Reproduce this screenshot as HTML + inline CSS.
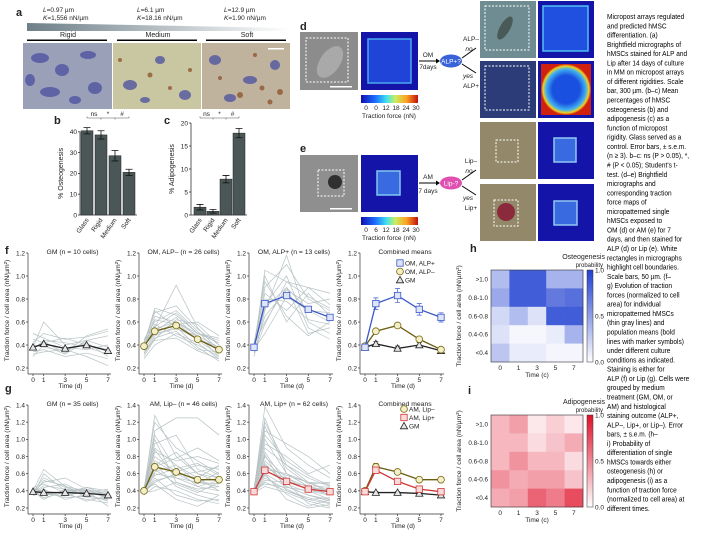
<!DOCTYPE html>
<html><head><meta charset="utf-8">
<style>
html,body{margin:0;padding:0;background:#fff;}
svg{display:block;font-family:"Liberation Sans",sans-serif;}
text{fill:#222;}
.cap{font-size:7.6px;fill:#000;}
</style></head>
<body>
<svg id="fig" width="720" height="540" viewBox="0 0 720 540" xmlns="http://www.w3.org/2000/svg">
<defs>
<linearGradient id="stiff" x1="0" x2="1" y1="0" y2="0"><stop offset="0" stop-color="#6d7f88"/><stop offset="1" stop-color="#ffffff"/></linearGradient>
<linearGradient id="jet" x1="0" x2="1"><stop offset="0" stop-color="#1010b0"/><stop offset="0.25" stop-color="#1a70ff"/><stop offset="0.45" stop-color="#40e0f0"/><stop offset="0.6" stop-color="#c8f060"/><stop offset="0.8" stop-color="#ffa020"/><stop offset="1" stop-color="#c01010"/></linearGradient>
<linearGradient id="bluebar" x1="0" x2="0" y1="1" y2="0"><stop offset="0" stop-color="#ffffff"/><stop offset="1" stop-color="#2040d0"/></linearGradient>
<linearGradient id="redbar" x1="0" x2="0" y1="1" y2="0"><stop offset="0" stop-color="#ffffff"/><stop offset="1" stop-color="#e0102a"/></linearGradient>
<radialGradient id="alpmap"><stop offset="0.55" stop-color="#1a50e0"/><stop offset="0.8" stop-color="#40b0f0"/><stop offset="0.92" stop-color="#f0d020"/><stop offset="1" stop-color="#d02010"/></radialGradient>
</defs>

<!-- panel a -->
<g>
<text x="16" y="16" font-size="11" font-weight="bold">a</text>
<text x="43" y="12" font-size="6.5"><tspan font-style="italic">L</tspan>=0.97 µm</text>
<text x="43" y="20" font-size="6.5"><tspan font-style="italic">K</tspan>=1,556 nN/µm</text>
<text x="137" y="12" font-size="6.5"><tspan font-style="italic">L</tspan>=6.1 µm</text>
<text x="137" y="20" font-size="6.5"><tspan font-style="italic">K</tspan>=18.16 nN/µm</text>
<text x="224" y="12" font-size="6.5"><tspan font-style="italic">L</tspan>=12.9 µm</text>
<text x="224" y="20" font-size="6.5"><tspan font-style="italic">K</tspan>=1.90 nN/µm</text>
<polygon points="27,23 290,28 290,31 27,31" fill="url(#stiff)"/>
<text x="68" y="37" font-size="7" text-anchor="middle">Rigid</text>
<text x="158" y="37" font-size="7" text-anchor="middle">Medium</text>
<text x="247" y="37" font-size="7" text-anchor="middle">Soft</text>
<rect x="27" y="39.5" width="80" height="1.5" fill="#000"/>
<rect x="117" y="39.5" width="80" height="1.5" fill="#000"/>
<rect x="206" y="39.5" width="80" height="1.5" fill="#000"/>
<rect x="23" y="43" width="89" height="66" fill="#9aa0b8"/>
<rect x="113" y="43" width="88" height="66" fill="#c9c6a2"/>
<rect x="202" y="43" width="88" height="66" fill="#bfb39e"/>
<g fill="#4a4fa0" opacity="0.75">
<ellipse cx="40" cy="58" rx="9" ry="5"/><ellipse cx="62" cy="70" rx="7" ry="6"/><ellipse cx="88" cy="55" rx="8" ry="4"/><ellipse cx="50" cy="92" rx="10" ry="5"/><ellipse cx="95" cy="88" rx="7" ry="6"/><ellipse cx="30" cy="80" rx="5" ry="6"/><ellipse cx="75" cy="100" rx="6" ry="4"/>
<ellipse cx="130" cy="85" rx="7" ry="5"/><ellipse cx="160" cy="60" rx="5" ry="4"/><ellipse cx="185" cy="95" rx="6" ry="5"/><ellipse cx="145" cy="100" rx="5" ry="3"/>
<ellipse cx="215" cy="60" rx="6" ry="5"/><ellipse cx="250" cy="80" rx="7" ry="4"/><ellipse cx="275" cy="65" rx="5" ry="5"/><ellipse cx="230" cy="98" rx="6" ry="4"/>
</g>
<g fill="#8a4a20" opacity="0.7">
<circle cx="150" cy="75" r="2.5"/><circle cx="170" cy="88" r="2"/><circle cx="120" cy="60" r="2"/><circle cx="190" cy="70" r="2"/><circle cx="240" cy="95" r="3"/><circle cx="262" cy="88" r="2.5"/><circle cx="280" cy="92" r="3"/><circle cx="220" cy="78" r="2"/><circle cx="255" cy="55" r="2"/><circle cx="270" cy="102" r="2.5"/>
</g>
<rect x="268" y="48" width="16" height="1.5" fill="#fff"/>
</g>

<!-- panels d / e images -->
<g>
<text x="300" y="30" font-size="11" font-weight="bold">d</text>
<rect x="300" y="32" width="58" height="58" fill="#8c8c8c"/>
<ellipse cx="330" cy="62" rx="10" ry="18" fill="#b0b0b0" opacity="0.8" transform="rotate(35 330 62)"/>
<rect x="306" y="38" width="42" height="44" fill="none" stroke="#fff" stroke-dasharray="2,1.5"/>
<rect x="330" y="86" width="22" height="1.5" fill="#fff"/>
<rect x="361" y="32" width="57" height="58" fill="#1414a8"/>
<rect x="368" y="39" width="43" height="44" fill="#2044d8" stroke="#4aa8f0" stroke-width="1.5"/>
<rect x="361" y="95" width="57" height="8" fill="url(#jet)"/>
<text x="366" y="110" font-size="6.5" text-anchor="middle">0</text>
<text x="376" y="110" font-size="6.5" text-anchor="middle">0</text>
<text x="386" y="110" font-size="6.5" text-anchor="middle">12</text>
<text x="396" y="110" font-size="6.5" text-anchor="middle">18</text>
<text x="406" y="110" font-size="6.5" text-anchor="middle">24</text>
<text x="416" y="110" font-size="6.5" text-anchor="middle">30</text>
<text x="389" y="118" font-size="6.5" text-anchor="middle">Traction force (nN)</text>
<text x="428" y="57" font-size="6.5" text-anchor="middle">OM</text>
<line x1="419" y1="61" x2="436" y2="61" stroke="#000"/><polygon points="436,58.5 440,61 436,63.5" fill="#000"/>
<text x="428" y="69" font-size="6.5" text-anchor="middle">7days</text>
<ellipse cx="451" cy="61" rx="11" ry="6.5" fill="#3a62d8"/>
<text x="451" y="63.5" font-size="6.5" text-anchor="middle" style="fill:#fff">ALP+?</text>
<path d="M462,58 L476,48 M462,64 L476,73" stroke="#000" fill="none"/>
<text x="471" y="41" font-size="6.5" text-anchor="middle">ALP–</text>
<text x="469" y="51" font-size="6.5" text-anchor="middle" font-style="italic">no</text>
<text x="468" y="78" font-size="6.5" text-anchor="middle" font-style="italic">yes</text>
<text x="471" y="88" font-size="6.5" text-anchor="middle">ALP+</text>
<rect x="480" y="1" width="56" height="57" fill="#6f8c92"/>
<ellipse cx="505" cy="28" rx="5" ry="13" fill="#4a5a58" transform="rotate(30 505 28)"/>
<rect x="485" y="6" width="44" height="44" fill="none" stroke="#fff" stroke-dasharray="2,1.5"/>
<rect x="538" y="1" width="56" height="57" fill="#1414a8"/>
<rect x="543" y="6" width="45" height="45" fill="#2050e0" stroke="#50c0f0" stroke-width="1.5"/>
<rect x="480" y="61" width="56" height="57" fill="#2c3c78"/>
<rect x="485" y="66" width="44" height="44" fill="none" stroke="#fff" stroke-dasharray="2,1.5"/>
<rect x="538" y="61" width="56" height="57" fill="#1414a8"/>
<rect x="541" y="64" width="50" height="51" fill="url(#alpmap)"/>
</g>
<g>
<text x="300" y="152" font-size="11" font-weight="bold">e</text>
<rect x="300" y="155" width="58" height="57" fill="#8f8f8f"/>
<circle cx="335" cy="182" r="7" fill="#303030"/>
<rect x="318" y="170" width="26" height="26" fill="none" stroke="#fff" stroke-dasharray="2,1.5"/>
<rect x="330" y="208" width="22" height="1.5" fill="#fff"/>
<rect x="361" y="155" width="57" height="57" fill="#1414a8"/>
<rect x="377" y="171" width="23" height="24" fill="#3a6ae0" stroke="#80c8f0" stroke-width="1.5"/>
<rect x="361" y="217" width="57" height="8" fill="url(#jet)"/>
<text x="366" y="232" font-size="6.5" text-anchor="middle">0</text>
<text x="376" y="232" font-size="6.5" text-anchor="middle">6</text>
<text x="386" y="232" font-size="6.5" text-anchor="middle">12</text>
<text x="396" y="232" font-size="6.5" text-anchor="middle">18</text>
<text x="406" y="232" font-size="6.5" text-anchor="middle">24</text>
<text x="416" y="232" font-size="6.5" text-anchor="middle">30</text>
<text x="389" y="240" font-size="6.5" text-anchor="middle">Traction force (nN)</text>
<text x="428" y="179" font-size="6.5" text-anchor="middle">AM</text>
<line x1="419" y1="183" x2="436" y2="183" stroke="#000"/><polygon points="436,180.5 440,183 436,185.5" fill="#000"/>
<text x="428" y="193" font-size="6.5" text-anchor="middle">7 days</text>
<ellipse cx="451" cy="183" rx="11" ry="6.5" fill="#e050b0"/>
<text x="451" y="185.5" font-size="6.5" text-anchor="middle" style="fill:#fff">Lip-?</text>
<path d="M462,180 L476,170 M462,186 L476,195" stroke="#000" fill="none"/>
<text x="471" y="163" font-size="6.5" text-anchor="middle">Lip–</text>
<text x="469" y="173" font-size="6.5" text-anchor="middle" font-style="italic">no</text>
<text x="468" y="200" font-size="6.5" text-anchor="middle" font-style="italic">yes</text>
<text x="471" y="210" font-size="6.5" text-anchor="middle">Lip+</text>
<rect x="480" y="122" width="56" height="57" fill="#938869"/>
<rect x="496" y="140" width="22" height="22" fill="none" stroke="#fff" stroke-dasharray="2,1.5"/>
<rect x="538" y="122" width="56" height="57" fill="#1414a8"/>
<rect x="554" y="138" width="22" height="24" fill="#3a6ae0" stroke="#90c8f0" stroke-width="1.5"/>
<rect x="480" y="184" width="56" height="57" fill="#938869"/>
<circle cx="506" cy="212" r="9" fill="#8a2a3a"/>
<rect x="494" y="200" width="24" height="26" fill="none" stroke="#fff" stroke-dasharray="2,1.5"/>
<rect x="538" y="184" width="56" height="57" fill="#1414a8"/>
<rect x="554" y="201" width="23" height="24" fill="#3a6ae0" stroke="#90c8f0" stroke-width="1.5"/>
</g>

<g id="charts"></g>

<g id="caption"></g>
</svg>

<script>
// ---------- data ----------
const barCats = ["Glass","Rigid","Medium","Soft"];
const osteoVals = [40.5, 38.5, 28.5, 20.5];
const osteoErr = [1.5, 2.0, 2.5, 1.5];
const osteoTicks = [0,10,20,30,40];
const adipoVals = [1.7, 0.8, 7.8, 17.8];
const adipoErr = [0.6, 0.4, 0.8, 1.0];
const adipoTicks = [0,5,10,15,20];

const days = [0,1,3,5,7];
const dayLabels = ["0","1","3","5","7"];
const fTicks = [0.2,0.4,0.6,0.8,1.0,1.2];
const gTicks = [0.2,0.4,0.6,0.8,1.0,1.2,1.4];

const fGMcells = [[0.42,0.50,0.45,0.47,0.52],[0.38,0.60,0.40,0.44,0.48],[0.36,0.44,0.42,0.38,0.32],[0.40,0.38,0.35,0.42,0.30],[0.34,0.36,0.30,0.33,0.28],[0.45,0.42,0.46,0.40,0.36],[0.32,0.34,0.36,0.30,0.22],[0.50,0.46,0.38,0.36,0.40],[0.30,0.40,0.32,0.44,0.38],[0.37,0.43,0.33,0.48,0.54]];
const fALPmCells = [[0.38,0.65,0.60,0.50,0.42],[0.40,0.55,0.92,0.55,0.35],[0.35,0.50,0.60,0.48,0.30],[0.42,0.70,0.55,0.45,0.38],[0.30,0.45,0.62,0.58,0.40],[0.45,0.60,0.70,0.52,0.33],[0.28,0.40,0.50,0.42,0.28],[0.36,0.58,0.48,0.40,0.30],[0.40,0.72,0.66,0.50,0.44],[0.33,0.48,0.56,0.38,0.26],[0.44,0.52,0.64,0.46,0.36],[0.38,0.62,0.58,0.60,0.48],[0.32,0.46,0.52,0.36,0.34],[0.41,0.68,0.74,0.54,0.40],[0.37,0.54,0.60,0.44,0.32],[0.35,0.44,0.46,0.35,0.28],[0.43,0.56,0.68,0.50,0.46],[0.39,0.50,0.54,0.48,0.38]];
const fALPpCells = [[0.38,0.90,1.10,0.80,0.70],[0.35,1.05,0.95,0.90,0.85],[0.40,0.60,0.90,0.50,0.55],[0.30,0.70,1.18,0.60,0.50],[0.42,0.85,0.70,0.90,0.75],[0.36,0.50,0.82,0.70,0.60],[0.38,1.00,0.60,0.85,0.65],[0.40,0.75,1.00,0.55,0.45],[0.34,0.65,0.88,0.76,0.80],[0.39,0.80,0.78,0.62,0.58],[0.37,0.72,0.90,0.70,0.68],[0.41,0.95,0.65,0.48,0.60],[0.33,0.58,0.95,0.82,0.72]];
const gGMcells = [[0.40,0.65,0.45,0.40,0.35],[0.38,0.50,0.55,0.42,0.30],[0.42,0.35,0.40,0.38,0.33],[0.36,0.42,0.30,0.36,0.28],[0.40,0.30,0.42,0.35,0.40],[0.44,0.48,0.38,0.44,0.36],[0.34,0.40,0.36,0.30,0.26],[0.39,0.55,0.44,0.38,0.42],[0.41,0.36,0.34,0.40,0.32],[0.37,0.44,0.48,0.36,0.38],[0.43,0.38,0.32,0.34,0.30],[0.35,0.60,0.40,0.42,0.36],[0.40,0.32,0.38,0.28,0.34],[0.38,0.46,0.42,0.40,0.22],[0.42,0.40,0.36,0.44,0.40],[0.36,0.52,0.46,0.32,0.30]];
const gLipmCells = [[0.40,1.28,0.80,0.60,0.55],[0.38,1.10,1.25,1.25,1.05],[0.42,0.90,0.70,0.50,0.45],[0.36,0.60,0.55,0.45,0.40],[0.40,0.80,0.62,0.70,0.65],[0.44,1.00,0.50,0.40,0.35],[0.38,0.50,0.60,0.55,0.70],[0.40,0.70,0.85,0.60,0.50],[0.35,0.45,0.40,0.30,0.25],[0.42,1.20,0.90,0.75,0.60],[0.39,0.65,0.48,0.38,0.50],[0.41,0.85,0.75,0.80,0.72],[0.37,0.55,0.35,0.28,0.30],[0.40,0.75,0.60,0.48,0.62],[0.43,0.95,1.05,0.65,0.55],[0.38,0.40,0.50,0.42,0.45],[0.40,0.62,0.70,0.55,0.40],[0.36,0.72,0.45,0.35,0.28],[0.42,0.58,0.66,0.72,0.58],[0.39,0.88,0.55,0.50,0.48],[0.41,0.48,0.30,0.22,0.35],[0.37,0.68,0.78,0.90,0.75],[0.40,1.05,0.65,0.45,0.52],[0.38,0.52,0.58,0.62,0.68]];
const gLippCells = [[0.40,1.38,0.90,0.70,0.55],[0.38,1.20,0.70,0.50,0.40],[0.42,1.00,0.60,0.45,0.35],[0.36,0.80,0.55,0.40,0.30],[0.40,0.60,0.45,0.35,0.28],[0.44,1.10,0.95,0.80,0.60],[0.38,0.50,0.40,0.30,0.25],[0.40,0.90,0.70,0.55,0.45],[0.35,0.70,0.50,0.25,0.20],[0.42,1.25,0.60,0.45,0.40],[0.39,0.65,0.60,0.50,0.38],[0.41,0.85,0.48,0.38,0.42],[0.37,0.55,0.42,0.30,0.32],[0.40,0.75,0.52,0.42,0.36],[0.43,0.95,0.80,0.60,0.70],[0.38,0.45,0.38,0.28,0.22],[0.40,0.62,0.55,0.44,0.40],[0.36,0.72,0.45,0.35,0.30],[0.42,1.05,0.75,0.58,0.46],[0.39,0.58,0.36,0.22,0.30],[0.41,0.48,0.44,0.40,0.35],[0.37,0.68,0.58,0.50,0.48],[0.40,0.82,0.40,0.32,0.26],[0.38,0.52,0.50,0.46,0.44],[0.40,1.15,0.66,0.48,0.50],[0.36,0.60,0.30,0.20,0.24]];

const fGMmean = [0.38,0.41,0.37,0.40,0.35];
const fGMerr = [0.02,0.02,0.02,0.02,0.02];
const fALPmMean = [0.39,0.52,0.57,0.45,0.36];
const fALPmErr = [0.02,0.02,0.02,0.02,0.02];
const fALPpMean = [0.38,0.76,0.83,0.71,0.64];
const fALPpErr = [0.02,0.05,0.06,0.05,0.04];
const gGMmean = [0.39,0.38,0.38,0.37,0.35];
const gGMerr = [0.01,0.01,0.01,0.01,0.01];
const gLipmMean = [0.40,0.68,0.62,0.53,0.53];
const gLipmErr = [0.01,0.04,0.02,0.02,0.02];
const gLippMean = [0.39,0.64,0.51,0.42,0.39];
const gLippErr = [0.01,0.03,0.02,0.02,0.02];

const forceBins = [">1.0","0.8-1.0","0.6-0.8","0.4-0.6","<0.4"];
const osteoProb = [[0.35,0.85,0.85,0.40,0.40],[0.45,0.85,0.85,0.70,0.75],[0.20,0.35,0.15,0.85,0.85],[0.15,0.04,0.04,0.10,0.40],[0.30,0.10,0.10,0.05,0.05]];
const adipoProb = [[0.30,0.40,0.10,0.20,0.10],[0.30,0.30,0.15,0.25,0.35],[0.30,0.45,0.30,0.30,0.15],[0.45,0.35,0.40,0.40,0.25],[0.35,0.40,0.65,0.55,0.75]];

const captionLines = ["Micropost arrays regulated","and predicted hMSC","differentiation. (a)","Brightfield micrographs of","hMSCs stained for ALP and","Lip after 14 days of culture","in MM on micropost arrays","of different rigidities. Scale","bar, 300 µm. (b–c) Mean","percentages of hMSC","osteogenesis (b) and","adipogenesis (c) as a","function of micropost","rigidity. Glass served as a","control. Error bars, ± s.e.m.","(n ≥ 3). b–c: ns (P > 0.05), *,","# (P < 0.05); Student's t-","test. (d–e) Brightfield","micrographs and","corresponding traction","force maps of","micropatterned single","hMSCs exposed to","OM (d) or AM (e) for 7","days, and then stained for","ALP (d) or Lip (e). White","rectangles in micrographs","highlight cell boundaries.","Scale bars, 50 µm. (f–","g) Evolution of traction","forces (normalized to cell","area) for individual","micropatterned hMSCs","(thin gray lines) and","population means (bold","lines with marker symbols)","under different culture","conditions as indicated.","Staining is either for","ALP (f) or Lip (g). Cells were","grouped by medium","treatment (GM, OM, or","AM) and histological","staining outcome (ALP+,","ALP–, Lip+, or Lip–). Error","bars, ± s.e.m. (h–","i) Probability of","differentiation of single","hMSCs towards either","osteogenesis (h) or","adipogenesis (i) as a","function of traction force","(normalized to cell area) at","different times."];

// ---------- helpers ----------
const NS = 'http://www.w3.org/2000/svg';
const root = document.getElementById('charts');
function mk(tag, attrs, parent){ const e = document.createElementNS(NS, tag); for (const k in attrs) e.setAttribute(k, attrs[k]); (parent||root).appendChild(e); return e; }
function tx(x, y, s, size, extra, parent){ const e = mk('text', Object.assign({x:x, y:y, 'font-size':size}, extra||{}), parent); e.textContent = s; return e; }

// ---------- caption ----------
const cap = document.getElementById('caption');
captionLines.forEach(function(s, i){
  const t = tx(607, 19 + i*9.28, s, 7.4, {'class':'cap'}, cap);
  
  
  const w = t.getComputedTextLength();
  const target = Math.min(110, w * 0.86);
  t.setAttribute('textLength', target);
  t.setAttribute('lengthAdjust', 'spacingAndGlyphs');
});

// ---------- bar charts ----------
function barChart(o){
  const g = mk('g', {});
  
  
  const y = function(v){ return o.y0 - v * o.k; };
  const lab = tx(o.labX, o.labY, o.letter, 11, {'font-weight':'bold'}, g);
  
  
  const ax = mk('line', {x1:o.axX, x2:o.axX, y1:y(0), y2:y(o.ticks[o.ticks.length-1]), stroke:'#333', 'stroke-width':0.8}, g);
  
  
  const xa = mk('line', {x1:o.axX, x2:o.xs[3]+8, y1:y(0), y2:y(0), stroke:'#333', 'stroke-width':0.8}, g);
  
  
  o.ticks.forEach(function(t){
    const tk = mk('line', {x1:o.axX-2, x2:o.axX, y1:y(t), y2:y(t), stroke:'#333', 'stroke-width':0.8}, g);
    
    
    const tl = tx(o.axX-3, y(t)+2.3, String(t), 6.5, {'text-anchor':'end'}, g);
    
    
  });
  const yt = tx(0, 0, o.ytitle, 7, {'text-anchor':'middle', transform:'translate(' + (o.axX-17) + ',' + ((y(0)+y(o.ticks[o.ticks.length-1]))/2) + ') rotate(-90)'}, g);
  
  
  o.vals.forEach(function(v, i){
    const cx = o.xs[i];
    const b = mk('rect', {x:cx-6, y:y(v), width:12, height:y(0)-y(v), fill:'#4b5757', stroke:'#222', 'stroke-width':0.5}, g);
    
    
    const e = mk('path', {d:'M'+(cx-3.5)+','+y(v+o.err[i])+'H'+(cx+3.5)+'M'+cx+','+y(v+o.err[i])+'V'+y(v-o.err[i])+'M'+(cx-3.5)+','+y(v-o.err[i])+'H'+(cx+3.5), stroke:'#111', 'stroke-width':0.8, fill:'none'}, g);
    
    
    const xl = tx(0, 0, barCats[i], 6.5, {'text-anchor':'end', transform:'translate(' + (cx+2) + ',' + (y(0)+5) + ') rotate(-55)'}, g);
    
    
  });
  const sy = o.sigY;
  const sig = mk('path', {d:'M'+o.xs[0]+','+sy+'H'+o.xs[3]+'M'+o.xs[0]+','+sy+'v-1.5M'+o.xs[1]+','+sy+'v1.5M'+o.xs[2]+','+sy+'v1.5M'+o.xs[3]+','+sy+'v-1.5', stroke:'#555', 'stroke-width':0.6, fill:'none'}, g);
  
  
  ['ns','*','#'].forEach(function(s, i){
    const st = tx((o.xs[i]+o.xs[i+1])/2, sy-2, s, 6.5, {'text-anchor':'middle'}, g);
    
    
  });
}
barChart({name:'osteogenesis-chart', letter:'b', labX:54, labY:124, axX:80, y0:215, k:2.08, ticks:osteoTicks, vals:osteoVals, err:osteoErr, xs:[87,101,115,129], ytitle:'% Osteogenesis', sigY:118});
barChart({name:'adipogenesis-chart', letter:'c', labX:164, labY:124, axX:191, y0:215, k:4.6, ticks:adipoTicks, vals:adipoVals, err:adipoErr, xs:[200,213,226,239], ytitle:'% Adipogenesis', sigY:118});

// ---------- line charts ----------
function marker(g, type, x, y, stroke, fill){
  let m;
  if (type === 'tri') m = mk('polygon', {points:(x-3.6)+','+(y+2.8)+' '+(x+3.6)+','+(y+2.8)+' '+x+','+(y-3.6), fill:fill, stroke:stroke, 'stroke-width':0.8}, g);
  else if (type === 'circ') m = mk('circle', {cx:x, cy:y, r:3.4, fill:fill, stroke:stroke, 'stroke-width':0.8}, g);
  else m = mk('rect', {x:x-3.2, y:y-3.2, width:6.4, height:6.4, fill:fill, stroke:stroke, 'stroke-width':0.8}, g);
  return m;
}
const styles = {
  gm:{type:'tri', stroke:'#222', fill:'#e6e6e6', line:'#222'},
  om:{type:'circ', stroke:'#7a6a10', fill:'#f2efc8', line:'#6b5e10'},
  alp:{type:'sq', stroke:'#3a58c8', fill:'#dfe5f8', line:'#3a58c8'},
  lipm:{type:'circ', stroke:'#7a6a10', fill:'#f2efc8', line:'#6b5e10'},
  lipp:{type:'sq', stroke:'#d03838', fill:'#f8dada', line:'#d03838'}
};
function lineChart(o){
  const g = mk('g', {});
  
  
  const X = function(d){ return o.x0 + d * (o.x7 - o.x0) / 7; };
  const Y = function(v){ return o.ybot - (v - 0.2) * o.k; };
  const top = Y(o.ticks[o.ticks.length-1]);
  const ax = mk('line', {x1:o.x0-5, x2:o.x0-5, y1:top, y2:Y(0.2)+6, stroke:'#333', 'stroke-width':0.7}, g);
  
  
  o.ticks.forEach(function(t){
    const tk = mk('line', {x1:o.x0-7, x2:o.x0-5, y1:Y(t), y2:Y(t), stroke:'#333', 'stroke-width':0.7}, g);
    
    
    const tl = tx(o.x0-8, Y(t)+2.3, t.toFixed(1), 6.5, {'text-anchor':'end'}, g);
    
    
  });
  const xa = mk('line', {x1:o.x0-5, x2:o.x7+3, y1:Y(0.2)+6, y2:Y(0.2)+6, stroke:'#333', 'stroke-width':0.7}, g);
  
  
  days.forEach(function(d, i){
    const tk = mk('line', {x1:X(d), x2:X(d), y1:Y(0.2)+6, y2:Y(0.2)+8, stroke:'#333', 'stroke-width':0.7}, g);
    
    
    const tl = tx(X(d), Y(0.2)+14, dayLabels[i], 6.5, {'text-anchor':'middle'}, g);
    
    
  });
  const xt = tx((o.x0+o.x7)/2, Y(0.2)+20, 'Time (d)', 6.5, {'text-anchor':'middle'}, g);
  
  
  const yt = tx(0, 0, 'Traction force / cell area (nN/µm²)', 6.8, {'text-anchor':'middle', transform:'translate(' + (o.x0-24) + ',' + ((top+Y(0.2))/2) + ') rotate(-90)'}, g);
  
  
  const tt = tx((o.x0+o.x7)/2 + 2, top + 1, o.title, 6.8, {'text-anchor':'middle'}, g);
  
  
  (o.cells || []).forEach(function(c){
    const p = mk('polyline', {points:c.map(function(v, i){ return X(days[i]) + ',' + Y(v); }).join(' '), fill:'none', stroke:'#b7c2c4', 'stroke-width':0.7}, g);
    
    
  });
  o.series.forEach(function(s){
    const st = styles[s.style];
    const p = mk('polyline', {points:s.vals.map(function(v, i){ return X(days[i]) + ',' + Y(v); }).join(' '), fill:'none', stroke:st.line, 'stroke-width':1.3}, g);
    
    
    s.vals.forEach(function(v, i){
      if (s.err) {
        const e = s.err[i];
        const eb = mk('path', {d:'M'+(X(days[i])-2.5)+','+Y(v+e)+'h5M'+X(days[i])+','+Y(v+e)+'V'+Y(v-e)+'M'+(X(days[i])-2.5)+','+Y(v-e)+'h5', stroke:st.stroke, 'stroke-width':0.7, fill:'none'}, g);
        
        
      }
      const m = marker(g, st.type, X(days[i]), Y(v), st.stroke, st.fill);
      
      
    });
  });
  if (o.legend) {
    o.legend.forEach(function(l, i){
      const st = styles[l.style];
      const m = marker(g, st.type, o.legX, o.legY + i*8.5 - 2, st.stroke, st.fill);
      
      
      const lt = tx(o.legX + 5, o.legY + i*8.5 + 0.5, l.label, 6.5, {}, g);
      
      
    });
  }
}
const fRow = {ybot:368, k:115, ticks:fTicks};
const gRow = {ybot:508, k:85.8, ticks:gTicks};
const cols = [[33,108],[144,219],[254,330],[365,441]];
lineChart(Object.assign({name:'f-gm-chart', x0:cols[0][0], x7:cols[0][1], title:'GM (n = 10 cells)', cells:fGMcells, series:[{name:'gm', style:'gm', vals:fGMmean}]}, fRow));
lineChart(Object.assign({name:'f-om-alp-minus-chart', x0:cols[1][0], x7:cols[1][1], title:'OM, ALP– (n = 26 cells)', cells:fALPmCells, series:[{name:'om-alp-minus', style:'om', vals:fALPmMean}]}, fRow));
lineChart(Object.assign({name:'f-om-alp-plus-chart', x0:cols[2][0], x7:cols[2][1], title:'OM, ALP+ (n = 13 cells)', cells:fALPpCells, series:[{name:'om-alp-plus', style:'alp', vals:fALPpMean}]}, fRow));
lineChart(Object.assign({name:'f-combined-chart', x0:cols[3][0], x7:cols[3][1], title:'Combined means', series:[{name:'gm', style:'gm', vals:fGMmean, err:fGMerr},{name:'om-alp-minus', style:'om', vals:fALPmMean, err:fALPmErr},{name:'om-alp-plus', style:'alp', vals:fALPpMean, err:fALPpErr}], legend:[{style:'alp', label:'OM, ALP+'},{style:'om', label:'OM, ALP–'},{style:'gm', label:'GM'}], legX:400, legY:265}, fRow));
lineChart(Object.assign({name:'g-gm-chart', x0:cols[0][0], x7:cols[0][1], title:'GM (n = 35 cells)', cells:gGMcells, series:[{name:'gm', style:'gm', vals:gGMmean}]}, gRow));
lineChart(Object.assign({name:'g-am-lip-minus-chart', x0:cols[1][0], x7:cols[1][1], title:'AM, Lip– (n = 46 cells)', cells:gLipmCells, series:[{name:'am-lip-minus', style:'lipm', vals:gLipmMean}]}, gRow));
lineChart(Object.assign({name:'g-am-lip-plus-chart', x0:cols[2][0], x7:cols[2][1], title:'AM, Lip+ (n = 62 cells)', cells:gLippCells, series:[{name:'am-lip-plus', style:'lipp', vals:gLippMean}]}, gRow));
lineChart(Object.assign({name:'g-combined-chart', x0:cols[3][0], x7:cols[3][1], title:'Combined means', series:[{name:'gm', style:'gm', vals:gGMmean, err:gGMerr},{name:'am-lip-minus', style:'lipm', vals:gLipmMean, err:gLipmErr},{name:'am-lip-plus', style:'lipp', vals:gLippMean, err:gLippErr}], legend:[{style:'lipm', label:'AM, Lip–'},{style:'lipp', label:'AM, Lip+'},{style:'gm', label:'GM'}], legX:404, legY:411}, gRow));

const fl = tx(5, 254, 'f', 11, {'font-weight':'bold'});


const gl = tx(5, 392, 'g', 11, {'font-weight':'bold'});



// ---------- heatmaps ----------
function mix(c, v){ return 'rgb(' + Math.round(255 + (c[0]-255)*v) + ',' + Math.round(255 + (c[1]-255)*v) + ',' + Math.round(255 + (c[2]-255)*v) + ')'; }
function heatmap(o){
  const g = mk('g', {});
  
  
  const cw = (o.x1 - o.x0) / 5, ch = (o.y1 - o.y0) / 5;
  o.vals.forEach(function(row, r){
    row.forEach(function(v, c){
      const cell = mk('rect', {x:o.x0 + c*cw, y:o.y0 + r*ch, width:cw+0.3, height:ch+0.3, fill:mix(o.color, v)}, g);
      
      
    });
    const rl = tx(o.x0 - 3, o.y0 + (r+0.5)*ch + 2.3, forceBins[r], 6.3, {'text-anchor':'end'}, g);
    
    
  });
  const bd = mk('rect', {x:o.x0, y:o.y0, width:o.x1-o.x0, height:o.y1-o.y0, fill:'none', stroke:'#333', 'stroke-width':0.6}, g);
  
  
  dayLabels.forEach(function(d, c){
    const cl = tx(o.x0 + (c+0.5)*cw, o.y1 + 8, d, 6.5, {'text-anchor':'middle'}, g);
    
    
  });
  const xt = tx((o.x0+o.x1)/2, o.y1 + 15, 'Time (c)', 6.5, {'text-anchor':'middle'}, g);
  
  
  const cb = mk('rect', {x:o.x1 + 4, y:o.y0, width:6, height:o.y1-o.y0, fill:o.grad, stroke:'#333', 'stroke-width':0.5}, g);
  
  
  [['1.0',0],['0.5',0.5],['0.0',1]].forEach(function(p){
    const l = tx(o.x1 + 12, o.y0 + p[1]*(o.y1-o.y0) + 2.3, p[0], 6.5, {}, g);
    
    
  });
  const t1 = tx(o.x1 + 22, o.y0 - 11, o.title, 7, {'text-anchor':'end'}, g);
  
  
  const t2 = tx(o.x1 + 20, o.y0 - 3, 'probability', 6, {'text-anchor':'end'}, g);
  
  
  const lt = tx(o.labX, o.labY, o.letter, 11, {'font-weight':'bold'}, g);
  
  
  const yt = tx(0, 0, 'Traction force / cell area (nN/µm²)', 6.8, {'text-anchor':'middle', transform:'translate(461,' + ((o.y0+o.y1)/2) + ') rotate(-90)'}, g);
  
  
}
heatmap({name:'osteogenesis-heatmap', letter:'h', labX:470, labY:252, x0:491, x1:583, y0:270, y1:362, vals:osteoProb, color:[32,64,208], grad:'url(#bluebar)', title:'Osteogenesis'});
heatmap({name:'adipogenesis-heatmap', letter:'i', labX:468, labY:394, x0:491, x1:583, y0:415, y1:507, vals:adipoProb, color:[224,16,42], grad:'url(#redbar)', title:'Adipogenesis'});
</script>
</body></html>
